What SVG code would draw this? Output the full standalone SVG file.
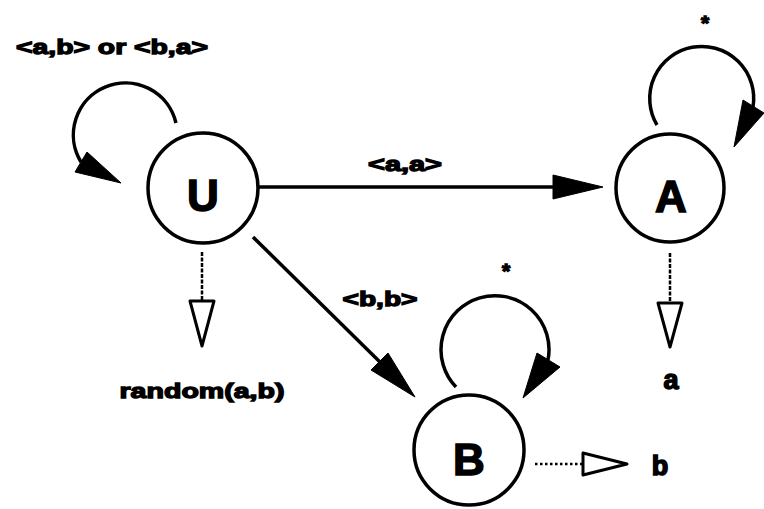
<svg xmlns="http://www.w3.org/2000/svg" width="764" height="509" viewBox="0 0 764 509">
  <style>
    .node { fill: #fff; stroke: #000; stroke-width: 3.5; }
    .name { font-family: "Liberation Sans", Arial, sans-serif; font-weight: bold; font-size: 44px; text-anchor: middle; fill: #000; stroke: #000; stroke-width: 1.5; }
    .lbl { font-family: "Liberation Sans", Arial, sans-serif; font-weight: bold; font-size: 21px; fill: #000; stroke: #000; stroke-width: 1.3; }
    .big { font-size: 27px; stroke-width: 1.5; }
    .edge { fill: none; stroke: #000; stroke-width: 3.5; }
    .out { fill: none; stroke: #000; stroke-width: 2.5; stroke-dasharray: 4 1.5; }
    .dots { fill: none; stroke: #000; stroke-width: 2.5; stroke-dasharray: 2.5 2.5; }
    .head { fill: #000; stroke: #000; stroke-width: 1; stroke-linejoin: round; }
    .hollow { fill: #fff; stroke: #000; stroke-width: 3; stroke-linejoin: round; }
  </style>

  <g id="connectors">
    <!-- U self-loop -->
    <path class="edge" d="M176,123 A52,52 0 1 0 81,162"/>
    <polygon class="head" points="121,183 75,172 87,152"/>
    <text class="lbl" x="112" y="54" text-anchor="middle" textLength="192" lengthAdjust="spacingAndGlyphs">&lt;a,b&gt; or &lt;b,a&gt;</text>

    <!-- U to A -->
    <line class="edge" x1="259" y1="187" x2="556" y2="187"/>
    <polygon class="head" points="603,187 553,175 553,199"/>
    <text class="lbl" x="405" y="171" text-anchor="middle" textLength="74" lengthAdjust="spacingAndGlyphs">&lt;a,a&gt;</text>

    <!-- U to B -->
    <line class="edge" x1="253" y1="237" x2="382" y2="364"/>
    <polygon class="head" points="415,397 371,370 388,353"/>
    <text class="lbl" x="380" y="306" text-anchor="middle" textLength="75" lengthAdjust="spacingAndGlyphs">&lt;b,b&gt;</text>

    <!-- A self-loop -->
    <path class="edge" d="M657,125 A52,52 0 1 1 753,107"/>
    <polygon class="head" points="734,147 743,100 764,113"/>
    <text class="lbl" x="705" y="30" text-anchor="middle">*</text>

    <!-- B self-loop -->
    <path class="edge" d="M456,387 A54,54 0 1 1 548,360"/>
    <polygon class="head" points="523,398 537,353 560,367"/>
    <text class="lbl" x="506" y="278" text-anchor="middle">*</text>

    <!-- outputs -->
    <line class="out" x1="202" y1="252" x2="202" y2="300"/>
    <polygon class="hollow" points="190,301 214,301 202,346"/>
    <text class="lbl" x="202" y="398" text-anchor="middle" textLength="165" lengthAdjust="spacingAndGlyphs">random(a,b)</text>

    <line class="out" x1="670" y1="253" x2="670" y2="302"/>
    <polygon class="hollow" points="658,303 682,303 670,347"/>
    <text class="lbl big" x="671" y="389" text-anchor="middle">a</text>

    <line class="dots" x1="535" y1="464" x2="582" y2="464"/>
    <polygon class="hollow" points="583,453 583,475 627,464"/>
    <text class="lbl big" x="660" y="475" text-anchor="middle">b</text>
  </g>

  <g id="node-U">
    <circle class="node" cx="203" cy="188" r="55"/>
    <text class="name" x="203" y="211">U</text>
  </g>
  <g id="node-A">
    <circle class="node" cx="670" cy="188" r="54"/>
    <text class="name" x="671" y="212">A</text>
  </g>
  <g id="node-B">
    <circle class="node" cx="469" cy="450" r="55"/>
    <text class="name" x="469" y="475">B</text>
  </g>
</svg>
